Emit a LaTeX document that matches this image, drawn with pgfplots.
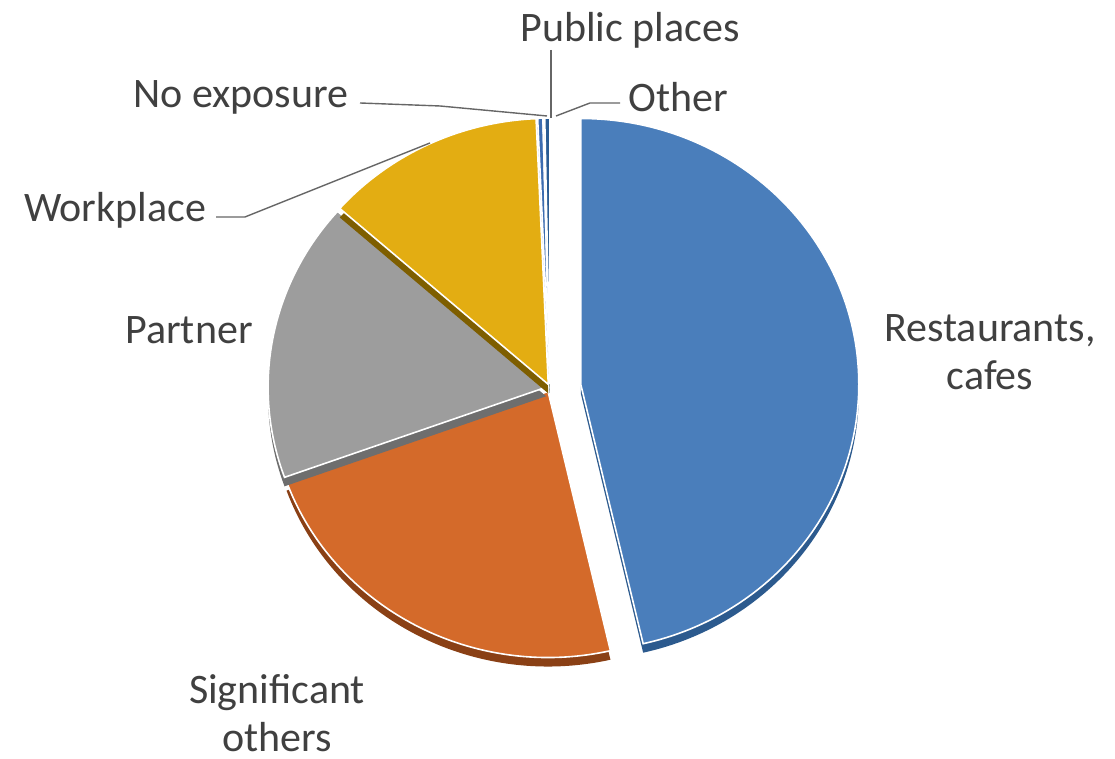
\documentclass[border=0pt]{standalone}
\usepackage{pgfplots}
\usepackage{pgfplotstable}
\pgfplotsset{compat=1.18}
\usepackage{fontspec}
\setmainfont{Carlito}

\definecolor{cRest}{HTML}{4A7EBB}
\definecolor{rRest}{HTML}{2C5A8E}
\definecolor{cSig}{HTML}{D46A2A}
\definecolor{rSig}{HTML}{8A4015}
\definecolor{cPart}{HTML}{9D9D9D}
\definecolor{rPart}{HTML}{6E6E6E}
\definecolor{cWork}{HTML}{E3AD12}
\definecolor{rWork}{HTML}{7E5E00}
\definecolor{cNoex}{HTML}{3C6CB0}
\definecolor{rNoex}{HTML}{24457A}
\definecolor{cPub}{HTML}{5E9A40}
\definecolor{rPub}{HTML}{3C6628}
\definecolor{cOth}{HTML}{2A5C94}
\definecolor{rOth}{HTML}{1A3A60}
\definecolor{labelc}{HTML}{404040}
\definecolor{leader}{HTML}{666666}

\tikzset{lbl/.style={text=labelc, font=\fontsize{21}{24}\selectfont, inner sep=0pt}}

% share of each exposure place, in percent, clockwise from 12 o'clock
\pgfplotstableread{
value
46.4
23.1
17.0
12.8
0.3
0.1
0.3
}\pietable

\begin{document}
\begin{tikzpicture}
\begin{axis}[
  x=0.5pt, y=0.5pt,
  xmin=0, xmax=1115, ymin=0, ymax=759,
  hide axis, clip=false,
]
\path (axis cs:0,0) rectangle (axis cs:1115,759);

\pgfplotsextra{
  \xdef\cum{0}
  \foreach \i/\col/\rim/\ex in {0/cRest/rRest/31,1/cSig/rSig/4,2/cPart/rPart/4,3/cWork/rWork/4,4/cNoex/rNoex/4,5/cPub/rPub/4,6/cOth/rOth/4}{
    \pgfplotstablegetelem{\i}{value}\of\pietable
    \pgfmathsetmacro\v{\pgfplotsretval}
    \pgfmathsetmacro\s{90-3.6*\cum}
    \pgfmathsetmacro\e{90-3.6*(\cum+\v)}
    \pgfmathsetmacro\m{(\s+\e)/2}
    \pgfmathsetmacro\cx{550+\ex*cos(\m)}
    \pgfmathsetmacro\cy{371+\ex*sin(\m)}
    \pgfmathsetmacro\cyr{\cy-9}
    \fill[\rim] (axis cs:\cx,\cyr) -- ++(\s:139pt and 133pt)
      arc[start angle=\s, end angle=\e, x radius=139pt, y radius=133pt] -- cycle;
    \filldraw[fill=\col, draw=white, line width=0.8pt] (axis cs:\cx,\cy) -- ++(\s:139pt and 133pt)
      arc[start angle=\s, end angle=\e, x radius=139pt, y radius=133pt] -- cycle;
    \pgfmathsetmacro\c{\cum+\v}
    \xdef\cum{\c}
  }
}

% leader lines
\draw[leader, line width=0.7pt] (axis cs:551,709) -- (axis cs:551,641);
\draw[leader, line width=0.7pt] (axis cs:360,656) -- (axis cs:440,653) -- (axis cs:547,643);
\draw[leader, line width=0.7pt] (axis cs:620,656) -- (axis cs:590,656) -- (axis cs:556,643);
\draw[leader, line width=0.7pt] (axis cs:216,542) -- (axis cs:245,542) -- (axis cs:430,616);

% labels
\node[lbl] at (axis cs:630,729) {Public places};
\node[lbl] at (axis cs:241,662) {No exposure};
\node[lbl] at (axis cs:678,662) {Other};
\node[lbl] at (axis cs:115,549) {Workplace};
\node[lbl] at (axis cs:189,429) {Partner};
\node[lbl, align=center] at (axis cs:990,407) {Restaurants,\\cafes};
\node[lbl, align=center] at (axis cs:277,46) {Significant\\others};
\end{axis}
\end{tikzpicture}
\end{document}
